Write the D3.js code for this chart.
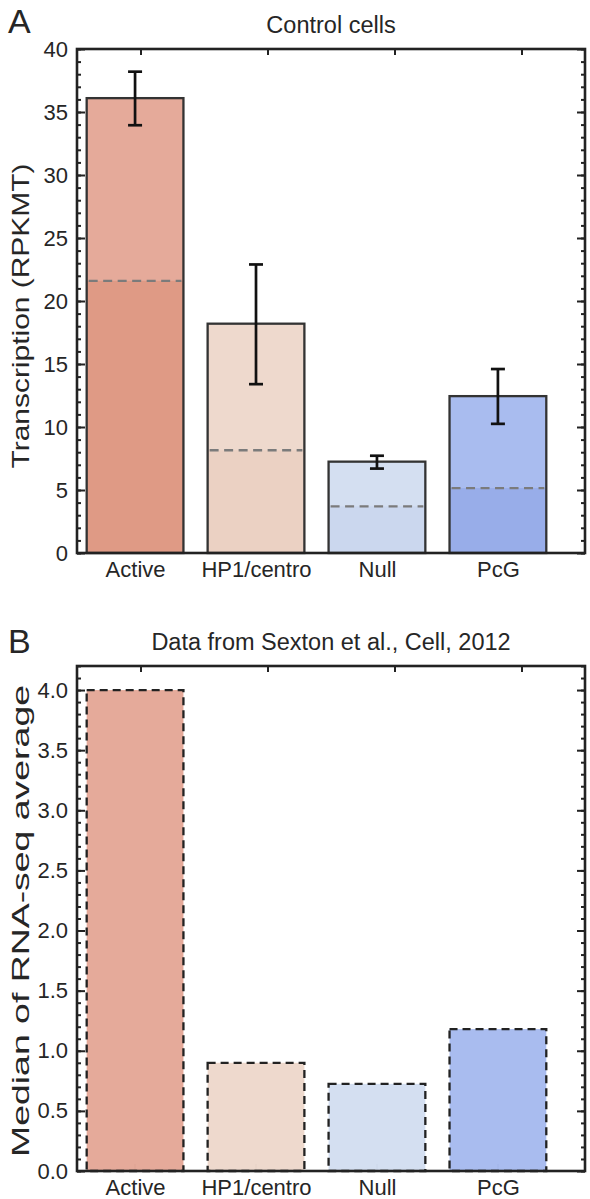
<!DOCTYPE html>
<html><head><meta charset="utf-8">
<script src="https://cdnjs.cloudflare.com/ajax/libs/d3/7.8.5/d3.min.js"></script>
<style>
html,body{margin:0;padding:0;background:#fff;}
text{font-family:"Liberation Sans",Arial,sans-serif;fill:#262626;}
</style></head>
<body>
<script>
const categories = ["Active", "HP1/centro", "Null", "PcG"];
const transcription = [36.1, 18.2, 7.25, 12.45];
const errLow = [33.95, 13.4, 6.7, 10.25];
const errHigh = [38.2, 22.9, 7.72, 14.6];
const dashedLevel = [21.6, 8.15, 3.7, 5.15];
const sexton = [4.0, 0.9, 0.725, 1.18];
const colorsLight = ["#e3a492", "#edd6c9", "#d1ddf0", "#a3b7ee"];
const colorsDark = ["#df9a85", "#ebd1c3", "#cbd7ee", "#98ade9"];
const yTicksA = [0, 5, 10, 15, 20, 25, 30, 35, 40];
const yTicksB = [0, 0.5, 1.0, 1.5, 2.0, 2.5, 3.0, 3.5, 4.0];

const W = 590, H = 1199;
const svg = d3.select("body").append("svg").attr("width", W).attr("height", H);

const L = 77, R = 585;
const x = d3.scaleLinear().domain([-0.48, 3.72]).range([L, R]);
const xTop = d3.scaleLinear().domain([-0.5, 3.5]).range([L, R]);
const barW = 0.8;
const idx = categories.map((d, i) => i);

function panel(opts) {
  const g = svg.append("g");
  const y = d3.scaleLinear().domain(opts.ydomain).range([opts.bottom, opts.top]);

  g.selectAll(".bt").data(idx).enter().append("line")
    .attr("x1", i => x(i)).attr("x2", i => x(i))
    .attr("y1", opts.bottom).attr("y2", opts.bottom - 7)
    .attr("stroke", "#555").attr("stroke-width", 2).attr("opacity", 0.35);

  g.selectAll(".bar").data(idx).enter().append("rect")
    .attr("x", i => x(i - barW / 2)).attr("width", i => x(i + barW / 2) - x(i - barW / 2))
    .attr("y", i => y(opts.values[i])).attr("height", i => y(0) - y(opts.values[i]))
    .attr("fill", i => colorsLight[i]).attr("fill-opacity", 0.93);

  if (opts.inner) {
    g.selectAll(".inner").data(idx).enter().append("rect")
      .attr("x", i => x(i - barW / 2)).attr("width", i => x(i + barW / 2) - x(i - barW / 2))
      .attr("y", i => y(opts.inner[i])).attr("height", i => y(0) - y(opts.inner[i]))
      .attr("fill", i => colorsDark[i]);
    g.selectAll(".dl").data(idx).enter().append("line")
      .attr("x1", i => x(i - barW / 2) + 2).attr("x2", i => x(i + barW / 2) - 2)
      .attr("y1", i => y(opts.inner[i])).attr("y2", i => y(opts.inner[i]))
      .attr("stroke", "#7b7b7b").attr("stroke-width", 2.4).attr("stroke-dasharray", "9,5.5");
  }

  g.selectAll(".outl").data(idx).enter().append("rect")
    .attr("x", i => x(i - barW / 2)).attr("width", i => x(i + barW / 2) - x(i - barW / 2))
    .attr("y", i => y(opts.values[i])).attr("height", i => y(0) - y(opts.values[i]))
    .attr("fill", "none").attr("stroke", opts.dashedEdge ? "#222" : "#333")
    .attr("stroke-width", 2.3)
    .attr("stroke-dasharray", opts.dashedEdge ? "8,5" : null);

  if (opts.errLow) {
    const eg = g.selectAll(".err").data(idx).enter().append("g");
    eg.append("line").attr("x1", i => x(i)).attr("x2", i => x(i))
      .attr("y1", i => y(opts.errLow[i])).attr("y2", i => y(opts.errHigh[i]))
      .attr("stroke", "#111").attr("stroke-width", 2.7);
    eg.append("line").attr("x1", i => x(i) - 7).attr("x2", i => x(i) + 7)
      .attr("y1", i => y(opts.errLow[i])).attr("y2", i => y(opts.errLow[i]))
      .attr("stroke", "#111").attr("stroke-width", 2.7);
    eg.append("line").attr("x1", i => x(i) - 7).attr("x2", i => x(i) + 7)
      .attr("y1", i => y(opts.errHigh[i])).attr("y2", i => y(opts.errHigh[i]))
      .attr("stroke", "#111").attr("stroke-width", 2.7);
  }

  const minorVals = d3.range(opts.ydomain[0], opts.ydomain[1] + 1e-9, opts.minorStep);
  const gl = g.append("g").attr("transform", `translate(${L},0)`).call(d3.axisRight(y).tickValues(opts.yticks).tickSize(8).tickFormat(""));
  const glm = g.append("g").attr("transform", `translate(${L},0)`).call(d3.axisRight(y).tickValues(minorVals).tickSize(4).tickFormat(""));
  const gr = g.append("g").attr("transform", `translate(${R},0)`).call(d3.axisLeft(y).tickValues(opts.yticks).tickSize(8).tickFormat(""));
  const grm = g.append("g").attr("transform", `translate(${R},0)`).call(d3.axisLeft(y).tickValues(minorVals).tickSize(4).tickFormat(""));
  [gl, glm, gr, grm].forEach(a => {
    a.select(".domain").remove();
    a.selectAll("line").attr("stroke", "#222").attr("stroke-width", 2);
  });
  const glab = g.append("g").attr("transform", `translate(${L},0)`)
    .call(d3.axisLeft(y).tickValues(opts.yticks).tickSize(0).tickPadding(9).tickFormat(opts.fmt));
  glab.select(".domain").remove();
  glab.selectAll("text").style("font-size", "22px").attr("fill", "#262626").attr("font-family", null);

  const gt = g.append("g").attr("transform", `translate(0,${opts.top})`)
    .call(d3.axisBottom(xTop).tickValues([0, 1, 2, 3]).tickSize(6).tickFormat(""));
  gt.select(".domain").remove();
  gt.selectAll("line").attr("stroke", "#222").attr("stroke-width", 2);

  const gb = g.append("g").attr("transform", `translate(0,${opts.bottom})`)
    .call(d3.axisBottom(x).tickValues(idx).tickSize(0).tickPadding(8).tickFormat(i => categories[i]));
  gb.select(".domain").remove();
  gb.selectAll("text").style("font-size", "22px").attr("fill", "#262626").attr("font-family", null);

  g.append("rect").attr("x", L).attr("y", opts.top).attr("width", R - L).attr("height", opts.bottom - opts.top)
    .attr("fill", "none").attr("stroke", "#222").attr("stroke-width", 2.6);

  g.append("text").attr("x", (L + R) / 2).attr("y", opts.top - 16).attr("text-anchor", "middle")
    .style("font-size", "23.5px").text(opts.title);
  g.append("text").attr("x", 8).attr("y", opts.letterY).style("font-size", "34px").text(opts.letter);
  g.append("text").attr("transform", `translate(29,${opts.ylabelCenter}) rotate(-90)`)
    .attr("text-anchor", "middle").style("font-size", "24px")
    .attr("textLength", opts.ylabelLength).attr("lengthAdjust", "spacingAndGlyphs")
    .text(opts.ylabel);
}

panel({
  top: 49, bottom: 553, ydomain: [0, 40], yticks: yTicksA, minorStep: 1, fmt: d3.format("d"),
  values: transcription, inner: dashedLevel, errLow: errLow, errHigh: errHigh,
  title: "Control cells", letter: "A", letterY: 33, ylabel: "Transcription (RPKMT)",
  ylabelCenter: 316, ylabelLength: 305
});
panel({
  top: 666, bottom: 1171, ydomain: [0, 4.2], yticks: yTicksB, minorStep: 0.1, fmt: d3.format(".1f"),
  values: sexton, dashedEdge: true,
  title: "Data from Sexton et al., Cell, 2012", letter: "B", letterY: 653, ylabel: "Median of RNA-seq average",
  ylabelCenter: 921, ylabelLength: 472
});
</script>
</body></html>
